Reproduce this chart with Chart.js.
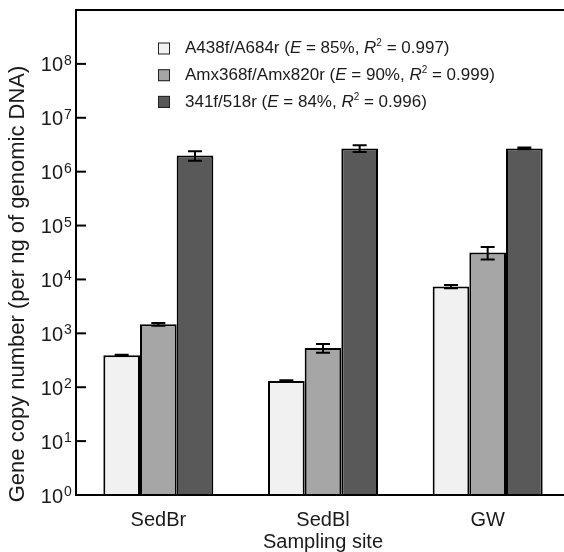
<!DOCTYPE html>
<html>
<head>
<meta charset="utf-8">
<script src="https://cdn.jsdelivr.net/npm/chart.js@4"></script>
<style>
  html, body { margin: 0; padding: 0; background: #fff; overflow: hidden; }
  #wrap { width: 580px; height: 552px; }
</style>
</head>
<body>
<div id="wrap"><canvas id="chart" width="580" height="552"></canvas></div>
<script>
// --- data ---
const sites = ['SedBr', 'SedBl', 'GW'];
const primerA438 = [390, 131, 7400];
const primerA438Err = [10, 4, 500];
const primerAmx368 = [1470, 536, 31600];
const primerAmx368Err = [80, 98, 8200];
const primer341 = [2000000, 2700000, 2700000];
const primer341Err = [400000, 380000, 100000];
const yExponents = [0, 1, 2, 3, 4, 5, 6, 7, 8];

// legend text pieces: [text, style] where style is '' | 'i' (italic) | 's' (superscript)
const legendRows = [
    [['A438f/A684r (', ''], ['E', 'i'], [' = 85%, ', ''], ['R', 'i'], ['2', 's'], [' = 0.997)', '']],
    [['Amx368f/Amx820r (', ''], ['E', 'i'], [' = 90%, ', ''], ['R', 'i'], ['2', 's'], [' = 0.999)', '']],
    [['341f/518r (', ''], ['E', 'i'], [' = 84%, ', ''], ['R', 'i'], ['2', 's'], [' = 0.996)', '']]
];
const barColors = ['#f1f1f1', '#a6a6a6', '#595959'];

const FONT = 'Arial, "Liberation Sans", Helvetica, sans-serif';
const INK = '#1a1a1a';

// draws frame, y ticks, y title, legend and error bars
const decorPlugin = {
    id: 'decor',
    afterDatasetsDraw(chart) {
        const ctx = chart.ctx;
        const area = chart.chartArea;
        const y = chart.scales.y;
        const errs = [primerA438Err, primerAmx368Err, primer341Err];

        ctx.save();
        ctx.strokeStyle = '#000';
        ctx.lineWidth = 2;

        // error bars
        chart.data.datasets.forEach((ds, d) => {
            const meta = chart.getDatasetMeta(d);
            meta.data.forEach((bar, i) => {
                const v = ds.data[i], e = errs[d][i];
                const top = y.getPixelForValue(v + e);
                const bot = y.getPixelForValue(Math.max(v - e, 1));
                ctx.beginPath();
                ctx.moveTo(bar.x, top); ctx.lineTo(bar.x, bot);
                ctx.moveTo(bar.x - 7, top); ctx.lineTo(bar.x + 7, top);
                ctx.moveTo(bar.x - 7, bot); ctx.lineTo(bar.x + 7, bot);
                ctx.stroke();
            });
        });

        // frame
        ctx.strokeRect(area.left, area.top, area.right - area.left, area.bottom - area.top);

        // y ticks (inward) and labels 10^k
        ctx.fillStyle = INK;
        yExponents.forEach(k => {
            const py = y.getPixelForValue(Math.pow(10, k));
            if (k > 0) {
                ctx.beginPath();
                ctx.moveTo(area.left, py); ctx.lineTo(area.left + 10, py);
                ctx.stroke();
            }
            ctx.font = '20px ' + FONT;
            ctx.textAlign = 'right';
            ctx.textBaseline = 'middle';
            ctx.fillText('10', 63, py + 2);
            ctx.font = '14px ' + FONT;
            ctx.textAlign = 'left';
            ctx.textBaseline = 'alphabetic';
            ctx.fillText(String(k), 64, py + 1);
        });

        // y title
        ctx.save();
        ctx.translate(18, 284);
        ctx.rotate(-Math.PI / 2);
        ctx.font = '22px ' + FONT;
        ctx.textAlign = 'center';
        ctx.textBaseline = 'middle';
        ctx.fillText('Gene copy number (per ng of genomic DNA)', 0, 0);
        ctx.restore();

        // legend
        legendRows.forEach((row, r) => {
            const cy = 48.5 + r * 26.7;
            ctx.fillStyle = barColors[r];
            ctx.fillRect(158, cy - 6, 12, 12);
            ctx.lineWidth = 1;
            ctx.strokeStyle = '#222';
            ctx.strokeRect(158.5, cy - 5.5, 11, 11);
            ctx.fillStyle = INK;
            ctx.textAlign = 'left';
            ctx.textBaseline = 'middle';
            let x = 185;
            row.forEach(([txt, st]) => {
                let dy = 0;
                if (st === 'i') ctx.font = 'italic 17px ' + FONT;
                else if (st === 's') { ctx.font = '10px ' + FONT; dy = -5; }
                else ctx.font = '17px ' + FONT;
                ctx.fillText(txt, x, cy + dy);
                x += ctx.measureText(txt).width;
            });
        });
        ctx.restore();
    }
};

new Chart(document.getElementById('chart'), {
    type: 'bar',
    data: {
        labels: sites,
        datasets: [
            { label: 'A438f/A684r', data: primerA438, backgroundColor: barColors[0] },
            { label: 'Amx368f/Amx820r', data: primerAmx368, backgroundColor: barColors[1] },
            { label: '341f/518r', data: primer341, backgroundColor: barColors[2] }
        ]
    },
    options: {
        responsive: false,
        animation: false,
        layout: { padding: { left: 76, top: 10, right: 10, bottom: 0 } },
        datasets: {
            bar: {
                borderColor: '#000',
                borderWidth: 2,
                barPercentage: 1,
                categoryPercentage: 0.668
            }
        },
        plugins: {
            legend: { display: false },
            tooltip: { enabled: false }
        },
        scales: {
            x: {
                grid: { display: false, drawTicks: false, tickLength: 0 },
                border: { display: false },
                ticks: { color: INK, font: { family: FONT, size: 20, lineHeight: 1.2 }, padding: 13 },
                title: {
                    display: true,
                    text: 'Sampling site',
                    color: INK,
                    font: { family: FONT, size: 20, lineHeight: 1.0 },
                    padding: { top: -13, bottom: 0 }
                }
            },
            y: {
                type: 'logarithmic',
                display: false,
                min: 1,
                max: 1e9
            }
        }
    },
    plugins: [decorPlugin]
});
</script>
</body>
</html>
